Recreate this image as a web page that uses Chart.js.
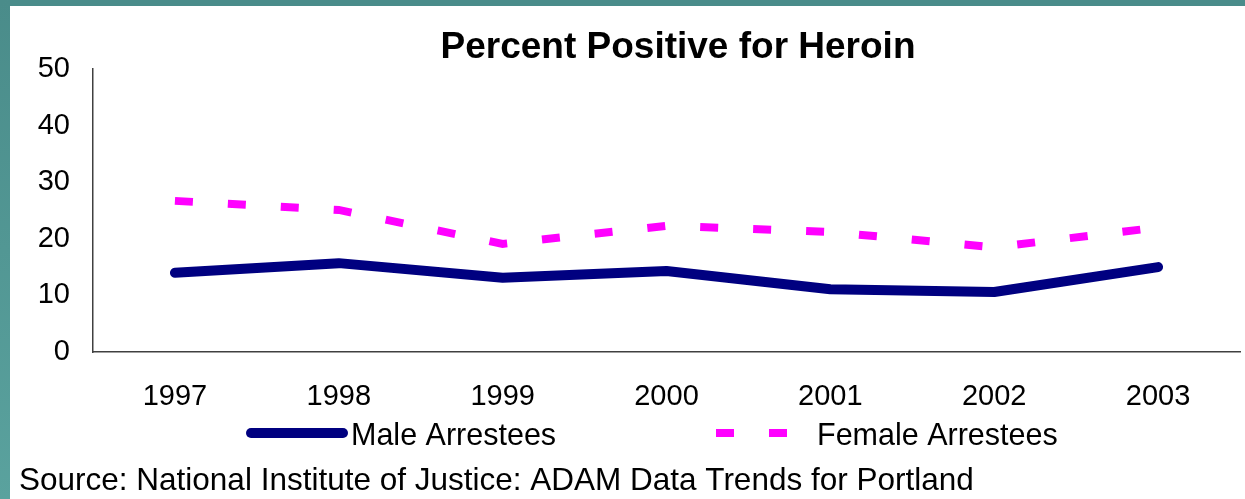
<!DOCTYPE html>
<html>
<head>
<meta charset="utf-8">
<script src="https://cdn.jsdelivr.net/npm/chart.js@4/dist/chart.umd.min.js"></script>
<style>
  html,body{margin:0;padding:0;}
  body{width:1245px;height:499px;position:relative;overflow:hidden;background:#4a8c8a;}
  #left{position:absolute;left:0;top:0;width:10px;height:499px;background:linear-gradient(#4a8c8a,#5aa29e);}
  #paper{position:absolute;left:10px;top:6px;right:0;bottom:0;background:#fff;}
  #wrap{position:absolute;left:0;top:0;width:1245px;height:499px;}
</style>
</head>
<body>
<div id="left"></div>
<div id="paper"></div>
<div id="wrap"><canvas id="c" width="1245" height="499"></canvas></div>
<script>
const titleText = "Percent Positive for Heroin";
const sourceText = "Source: National Institute of Justice: ADAM Data Trends for Portland";
const years = ["1997","1998","1999","2000","2001","2002","2003"];
const maleArrestees = [14.0, 15.7, 13.1, 14.3, 11.1, 10.6, 15.0];
const femaleArrestees = [26.7, 25.1, 19.1, 22.3, 21.2, 18.5, 22.0];
const seriesNames = ["Male Arrestees", "Female Arrestees"];
const yTicks = [0, 10, 20, 30, 40, 50];

const FONT = "'Liberation Sans', Arial, sans-serif";

const decor = {
  id: 'decor',
  afterDraw(chart) {
    const ctx = chart.ctx;
    ctx.save();
    // title
    ctx.fillStyle = '#000';
    ctx.font = "bold 37px " + FONT;
    ctx.textAlign = 'center';
    ctx.textBaseline = 'middle';
    ctx.fillText(titleText, 678, 48);
    // legend
    const ds = chart.data.datasets;
    ctx.font = "30.5px " + FONT;
    ctx.textAlign = 'left';
    // male
    ctx.strokeStyle = ds[0].borderColor;
    ctx.lineWidth = ds[0].borderWidth;
    ctx.lineCap = 'round';
    ctx.beginPath(); ctx.moveTo(251, 433); ctx.lineTo(343, 433); ctx.stroke();
    ctx.fillText(ds[0].label, 351, 437);
    // female
    ctx.strokeStyle = ds[1].borderColor;
    ctx.lineWidth = ds[1].borderWidth;
    ctx.lineCap = 'butt';
    ctx.setLineDash(ds[1].borderDash);
    ctx.beginPath(); ctx.moveTo(716, 433); ctx.lineTo(790, 433); ctx.stroke();
    ctx.setLineDash([]);
    ctx.fillText(ds[1].label, 817, 437);
    // source
    ctx.font = "31.5px " + FONT;
    ctx.fillText(sourceText, 19, 481);
    ctx.restore();
  }
};

new Chart(document.getElementById('c'), {
  type: 'line',
  data: {
    labels: years,
    datasets: [
      {
        label: seriesNames[0],
        data: maleArrestees,
        borderColor: '#000080',
        borderWidth: 10,
        borderCapStyle: 'round',
        borderJoinStyle: 'round',
        pointRadius: 0,
        tension: 0,
        fill: false
      },
      {
        label: seriesNames[1],
        data: femaleArrestees,
        borderColor: '#ff00ff',
        borderWidth: 8,
        borderDash: [18, 35],
        borderCapStyle: 'butt',
        pointRadius: 0,
        tension: 0,
        fill: false
      }
    ]
  },
  options: {
    responsive: false,
    animation: false,
    devicePixelRatio: 1,
    layout: { padding: { left: 0, right: 5, top: 69, bottom: 0 } },
    plugins: { legend: { display: false }, title: { display: false }, tooltip: { enabled: false } },
    scales: {
      x: {
        offset: true,
        grid: { display: false, drawTicks: false },
        border: { display: true, color: '#404040', width: 1.5 },
        ticks: { color: '#000', font: { family: FONT, size: 29 }, padding: 28, maxRotation: 0, autoSkip: false },
        afterFit(s) { s.height = 147; }
      },
      y: {
        min: 0, max: 50,
        grid: { display: false, drawTicks: false },
        border: { display: true, color: '#404040', width: 1.5 },
        afterBuildTicks(s) { s.ticks = yTicks.map(v => ({ value: v })); },
        ticks: { color: '#000', font: { family: FONT, size: 29 }, padding: 23 },
        afterFit(s) { s.width = 93; }
      }
    }
  },
  plugins: [decor]
});
</script>
</body>
</html>
